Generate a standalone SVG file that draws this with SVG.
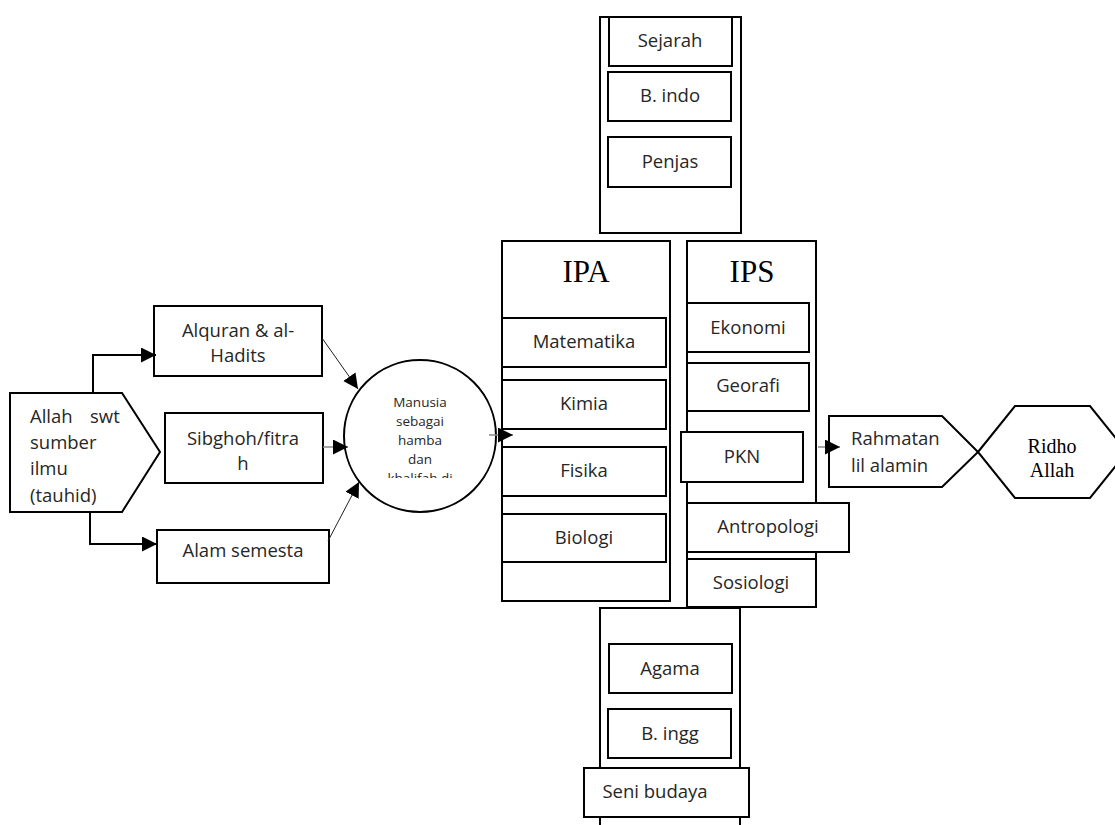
<svg xmlns="http://www.w3.org/2000/svg" width="1115" height="825" viewBox="0 0 1115 825">
<style>
.b{fill:#fff;stroke:#000;stroke-width:2}
.t{font-family:"Open Sans","Liberation Sans",sans-serif;font-size:18.5px;fill:#262626;text-anchor:middle}
.s{font-family:"Liberation Serif","Times New Roman",serif;fill:#000;text-anchor:middle}
.c{fill:none;stroke:#000;stroke-width:2}
.g{fill:none;stroke:#888;stroke-width:1.5}
.d{fill:none;stroke:#222;stroke-width:1}
</style>
<defs>
<marker id="ah" markerUnits="userSpaceOnUse" markerWidth="16" markerHeight="16" refX="15" refY="7.5" orient="auto"><path d="M0,0 L15,7.5 L0,15 z" fill="#000"/></marker>
<clipPath id="cc"><rect x="340" y="380" width="160" height="98"/></clipPath>
</defs>
<rect width="1115" height="825" fill="#fff"/>

<g id="top-column">
<rect class="b" x="600" y="17" width="141" height="216"/>
<rect class="b" x="609" y="17" width="123" height="49"/><text class="t" x="670" y="47">Sejarah</text>
<rect class="b" x="608" y="72" width="123" height="49"/><text class="t" x="670" y="102">B. indo</text>
<rect class="b" x="608" y="137" width="123" height="50"/><text class="t" x="670" y="168">Penjas</text>
</g>

<g id="ipa">
<rect class="b" x="502" y="241" width="168" height="360"/>
<text class="s" x="586" y="282" font-size="31">IPA</text>
<rect class="b" x="502" y="318" width="164" height="49"/><text class="t" x="584" y="348">Matematika</text>
<rect class="b" x="502" y="380" width="164" height="49"/><text class="t" x="584" y="410">Kimia</text>
<rect class="b" x="502" y="447" width="164" height="49"/><text class="t" x="584" y="477">Fisika</text>
<rect class="b" x="502" y="514" width="164" height="48"/><text class="t" x="584" y="544">Biologi</text>
</g>

<g id="ips">
<rect class="b" x="687" y="241" width="129" height="366"/>
<text class="s" x="752" y="282" font-size="31">IPS</text>
<rect class="b" x="687" y="303" width="122" height="49"/><text class="t" x="748" y="334">Ekonomi</text>
<rect class="b" x="687" y="363" width="122" height="48"/><text class="t" x="748" y="392">Georafi</text>
<rect class="b" x="681" y="432" width="122" height="50"/><text class="t" x="742" y="463">PKN</text>
<rect class="b" x="687" y="503" width="162" height="49"/><text class="t" x="768" y="533">Antropologi</text>
<rect class="b" x="687" y="559" width="129" height="48"/><text class="t" x="751" y="589">Sosiologi</text>
</g>

<g id="bottom-column">
<path class="c" d="M600,826 V608 H740 V826"/>
<rect class="b" x="609" y="644" width="123" height="49"/><text class="t" x="670" y="675">Agama</text>
<rect class="b" x="608" y="709" width="123" height="49"/><text class="t" x="670" y="740">B. ingg</text>
<rect class="b" x="584" y="768" width="165" height="49"/><text class="t" x="655" y="798">Seni budaya</text>
</g>

<g id="allah">
<path class="b" d="M10,393 H122 L160,452 L122,512 H10 Z"/>
<text class="t" style="text-anchor:start"><tspan x="30" y="423">Allah</tspan><tspan x="90" y="423">swt</tspan><tspan x="30" y="449">sumber</tspan><tspan x="30" y="475">ilmu</tspan><tspan x="30" y="502">(tauhid)</tspan></text>
</g>

<g id="alquran">
<rect class="b" x="154" y="306" width="168" height="70"/>
<text class="t"><tspan x="238" y="337">Alquran &amp; al-</tspan><tspan x="238" y="362">Hadits</tspan></text>
</g>

<g id="sibghoh">
<rect class="b" x="165" y="413" width="158" height="70"/>
<text class="t"><tspan x="243" y="445">Sibghoh/fitra</tspan><tspan x="243" y="470">h</tspan></text>
</g>

<g id="alam">
<rect class="b" x="157" y="530" width="172" height="53"/>
<text class="t" x="243" y="557">Alam semesta</text>
</g>

<g id="manusia">
<circle class="b" cx="420" cy="436" r="76"/>
<text class="t" style="font-size:13.5px" clip-path="url(#cc)"><tspan x="420" y="407">Manusia</tspan><tspan x="420" y="426">sebagai</tspan><tspan x="420" y="445">hamba</tspan><tspan x="420" y="464">dan</tspan><tspan x="420" y="483">khalifah di</tspan></text>
</g>

<g id="rahmatan">
<path class="b" d="M829,416 H942 L978,452 L942,487 H829 Z"/>
<text class="t" style="text-anchor:start"><tspan x="851" y="445">Rahmatan</tspan><tspan x="851" y="472">lil alamin</tspan></text>
</g>

<g id="ridho">
<path class="b" d="M978,452 L1015,406 H1090 L1127,452 L1090,498 H1015 Z"/>
<text class="s" font-size="20"><tspan x="1052" y="453">Ridho</tspan><tspan x="1052" y="477">Allah</tspan></text>
</g>

<g id="connectors">
<path class="c" d="M93,393 V355 H156" marker-end="url(#ah)"/>
<path class="c" d="M90,512 V544 H157" marker-end="url(#ah)"/>
<path class="d" d="M322,338 L358,389" marker-end="url(#ah)"/>
<path class="d" d="M328,541 L359,482" marker-end="url(#ah)"/>
<path class="g" d="M323,447 H348" marker-end="url(#ah)"/>
<path class="g" d="M489,435 H513" marker-end="url(#ah)"/>
<path class="g" d="M818,447 H840" marker-end="url(#ah)"/>
</g>
</svg>
